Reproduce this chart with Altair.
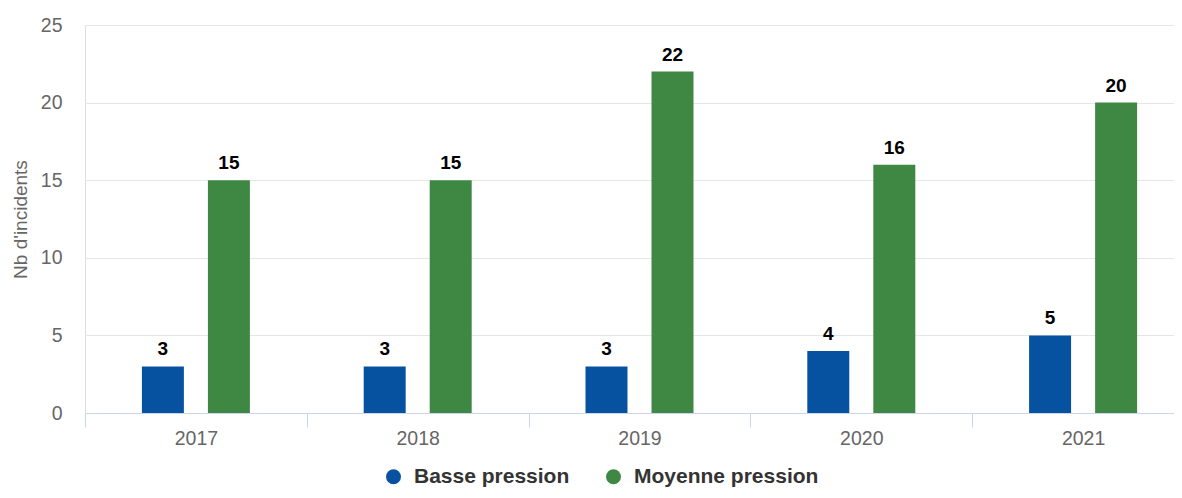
import altair as alt
import pandas as pd

years = ["2017", "2018", "2019", "2020", "2021"]
series = ["Basse pression", "Moyenne pression"]
basse = [3, 3, 3, 4, 5]
moyenne = [15, 15, 22, 16, 20]
colors = ["#0652a0", "#3e8843"]

rows = []
for i, y in enumerate(years):
    rows.append({"year": y, "serie": series[0], "value": basse[i]})
    rows.append({"year": y, "serie": series[1], "value": moyenne[i]})
df = pd.DataFrame(rows)

FONT = "Liberation Sans"

x = alt.X("year:N", title=None,
          scale=alt.Scale(paddingInner=0, paddingOuter=0, range=[0, 1109]),
          axis=alt.Axis(labelAngle=0, labelFontSize=19.5, labelColor="#666666",
                        labelFont=FONT, domainColor="#ccd6eb", tickColor="#ccd6eb",
                        tickSize=14, tickBand="extent", labelPadding=2, grid=False))
xo = alt.XOffset("serie:N", sort=series,
                 scale=alt.Scale(paddingInner=0.364, paddingOuter=0.862))
y = alt.Y("value:Q", title="Nb d'incidents",
          scale=alt.Scale(domain=[0, 25], nice=False),
          axis=alt.Axis(values=[0, 5, 10, 15, 20, 25], domain=False, ticks=False,
                        gridColor="#e6e6e6", labelFontSize=19.5, labelColor="#666666",
                        labelPadding=23, titleFontSize=19, titleFontWeight="normal",
                        titleColor="#666666", titleX=-65, titleY=194, titleAngle=270,
                        titleAlign="center", titleBaseline="middle"))
color = alt.Color("serie:N", sort=series,
                  scale=alt.Scale(domain=series, range=colors),
                  legend=alt.Legend(title=None, orient="none", legendX=298, legendY=441,
                                    direction="horizontal", symbolType="circle",
                                    symbolSize=225, symbolStrokeWidth=0,
                                    labelFontSize=21, labelFontWeight="bold",
                                    labelColor="#333333", labelFont=FONT, labelLimit=400,
                                    columnPadding=33, labelOffset=10, padding=0))

bars = alt.Chart(df).mark_bar().encode(x=x, xOffset=xo, y=y, color=color)
labels = alt.Chart(df).mark_text(dy=-11, baseline="alphabetic", fontSize=19,
                                 fontWeight="bold", color="#000000", font=FONT).encode(
    x=x, xOffset=xo, y=y, text="value:Q")

chart = (bars + labels).properties(
    width=1089, height=388,
    padding={"left": 77, "top": 17, "right": 0, "bottom": 77},
    autosize=alt.AutoSizeParams(type="none"),
).configure_view(stroke=None).configure(font=FONT)

chart.save("out.html", embed_options={"renderer": "svg", "actions": False})
